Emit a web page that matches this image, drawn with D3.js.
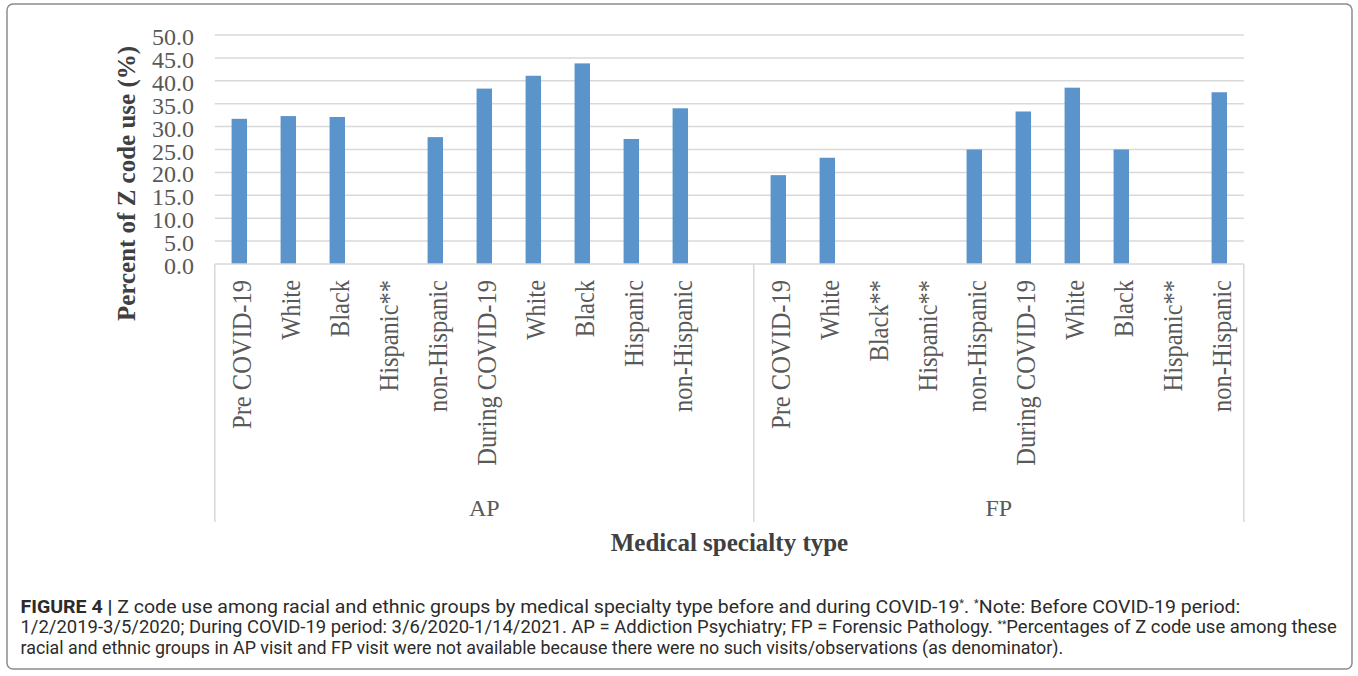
<!DOCTYPE html>
<html>
<head>
<meta charset="utf-8">
<script src="https://cdn.jsdelivr.net/npm/d3@7"></script>
<style>
  body { margin: 0; background: #ffffff; }
  svg { display: block; }
</style>
</head>
<body>
<svg id="chart"></svg>
<script>
// data
var groups = ["AP", "FP"];
var apCats = ["Pre COVID-19", "White", "Black", "Hispanic**", "non-Hispanic", "During COVID-19", "White", "Black", "Hispanic", "non-Hispanic", ""];
var fpCats = ["Pre COVID-19", "White", "Black**", "Hispanic**", "non-Hispanic", "During COVID-19", "White", "Black", "Hispanic**", "non-Hispanic"];
var apValues = [31.7, 32.3, 32.1, null, 27.7, 38.3, 41.1, 43.8, 27.3, 34.0, null];
var fpValues = [19.4, 23.2, null, null, 25.0, 33.3, 38.5, 25.0, null, 37.5];
var yTicks = [0, 5, 10, 15, 20, 25, 30, 35, 40, 45, 50];

var width = 1358, height = 676;
// note: "top" is a reserved window property, so plot* names
var plotLeft = 214.8, plotRight = 1243.8, plotTop = 35, plotBottom = 264, boxBottom = 522;
var tickColor = "#595959", titleColor = "#404040", gridColor = "#d9d9d9";
var barColor = "#5b94ca";
var serif = "'Liberation Serif', 'Times New Roman', serif";

var svg = d3.select("#chart").attr("width", width).attr("height", height);

// flatten groups into slots
var slots = [];
apCats.forEach(function(c, i){ slots.push({group: "AP", label: c, value: apValues[i], key: "AP" + i}); });
fpCats.forEach(function(c, i){ slots.push({group: "FP", label: c, value: fpValues[i], key: "FP" + i}); });

var x = d3.scaleBand()
    .domain(slots.map(function(d){ return d.key; }))
    .range([plotLeft, plotRight])
    .padding(0);
var y = d3.scaleLinear().domain([0, 50]).range([plotBottom, plotTop]);
var barW = x.bandwidth() * 0.315;

// outer frame
svg.append("rect")
    .attr("x", 7).attr("y", 4)
    .attr("width", 1345).attr("height", 665)
    .attr("rx", 6)
    .attr("fill", "none")
    .attr("stroke", "#8c8c8c")
    .attr("stroke-width", 1.5);

// gridlines
svg.append("g").selectAll("line")
    .data(yTicks.filter(function(t){ return t > 0; }))
    .enter().append("line")
    .attr("x1", plotLeft).attr("x2", plotRight)
    .attr("y1", function(d){ return y(d); })
    .attr("y2", function(d){ return y(d); })
    .attr("stroke", gridColor)
    .attr("stroke-width", 1.5);

// y tick labels
svg.append("g").selectAll("text")
    .data(yTicks)
    .enter().append("text")
    .attr("x", 194)
    .attr("y", function(d){ return y(d) + 10; })
    .attr("text-anchor", "end")
    .style("font-family", serif)
    .style("font-size", "24px")
    .style("fill", tickColor)
    .text(function(d){ return d3.format(".1f")(d); });

// y axis title
svg.append("text")
    .attr("transform", "translate(135,183.5) rotate(-90)")
    .attr("text-anchor", "middle")
    .style("font-family", serif)
    .style("font-size", "25px")
    .style("font-weight", "bold")
    .style("fill", titleColor)
    .text("Percent of Z code use (%)");

// bars
svg.append("g").selectAll("rect")
    .data(slots.filter(function(d){ return d.value != null; }))
    .enter().append("rect")
    .attr("x", function(d){ return x(d.key) + (x.bandwidth() - barW) / 2; })
    .attr("y", function(d){ return y(d.value); })
    .attr("width", barW)
    .attr("height", function(d){ return y(0) - y(d.value); })
    .attr("fill", barColor);

// category axis box
var box = svg.append("g").attr("stroke", gridColor).attr("stroke-width", 1.5);
box.append("line").attr("x1", plotLeft).attr("x2", plotRight).attr("y1", plotBottom).attr("y2", plotBottom);
var splitX = x("FP0");
[plotLeft, splitX, plotRight].forEach(function(xx){
    box.append("line").attr("x1", xx).attr("x2", xx).attr("y1", plotBottom).attr("y2", boxBottom);
});

// category tick labels
svg.append("g").selectAll("text")
    .data(slots)
    .enter().append("text")
    .attr("transform", function(d){
        var cx = x(d.key) + x.bandwidth() / 2;
        return "translate(" + (cx + 12) + ",280) rotate(-90) scale(1,1.12)";
    })
    .attr("text-anchor", "end")
    .style("font-family", serif)
    .style("font-size", "24.5px")
    .style("fill", tickColor)
    .text(function(d){ return d.label; });

// group labels
var groupCenters = {AP: (plotLeft + splitX) / 2, FP: (splitX + plotRight) / 2};
svg.append("g").selectAll("text")
    .data(groups)
    .enter().append("text")
    .attr("x", function(d){ return groupCenters[d]; })
    .attr("y", 516)
    .attr("text-anchor", "middle")
    .style("font-family", serif)
    .style("font-size", "24px")
    .style("fill", tickColor)
    .text(function(d){ return d; });

// x axis title
svg.append("text")
    .attr("x", 729.5)
    .attr("y", 551)
    .attr("text-anchor", "middle")
    .style("font-family", serif)
    .style("font-size", "25px")
    .style("font-weight", "bold")
    .style("fill", titleColor)
    .text("Medical specialty type");

// caption
var captionLines = [
    {y: 612.5, w: 1221, parts: [
        {t: "FIGURE 4 | ", b: true},
        {t: "Z code use among racial and ethnic groups by medical specialty type before and during COVID-19"},
        {t: "*", sup: true},
        {t: ". "},
        {t: "*", sup: true},
        {t: "Note: Before COVID-19 period:"}]},
    {y: 633, w: 1317, parts: [
        {t: "1/2/2019-3/5/2020; During COVID-19 period: 3/6/2020-1/14/2021. AP = Addiction Psychiatry; FP = Forensic Pathology. "},
        {t: "**", sup: true},
        {t: "Percentages of Z code use among these"}]},
    {y: 653.5, w: 1043, parts: [
        {t: "racial and ethnic groups in AP visit and FP visit were not available because there were no such visits/observations (as denominator)."}]}
];

captionLines.forEach(function(line){
    var g = svg.append("g");
    var txt = g.append("text")
        .attr("x", 0).attr("y", 0)
        .style("font-family", "Roboto, 'Liberation Sans', sans-serif")
        .style("font-size", "18px")
        .style("fill", "#2b2b2b");
    line.parts.forEach(function(p){
        var ts = txt.append("tspan").text(p.t);
        if (p.b) ts.style("font-weight", "bold");
        if (p.sup) ts.style("font-size", "10px").attr("baseline-shift", "super");
    });
    var len = txt.node().getComputedTextLength();
    g.attr("transform", "translate(20.5," + line.y + ") scale(" + (line.w / len) + ",1)");
});
</script>
</body>
</html>
